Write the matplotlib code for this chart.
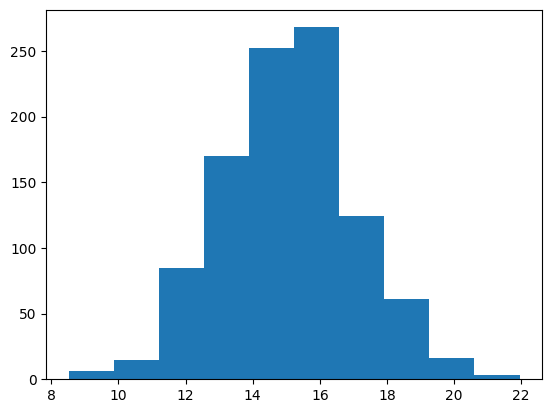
import numpy as np
import matplotlib.pyplot as plt

# bin edges and counts
bin_edges = [8.515, 9.858, 11.202, 12.545, 13.889, 15.232,
             16.576, 17.919, 19.263, 20.606, 21.95]
counts = [6, 15, 85, 170, 252, 268, 124, 61, 16, 3]

bin_centers = (np.array(bin_edges[:-1]) + np.array(bin_edges[1:])) / 2

fig, ax = plt.subplots(figsize=(6.4, 4.8), dpi=100)
ax.hist(bin_centers, bins=bin_edges, weights=counts)

fig.savefig("out.png", bbox_inches="tight")
